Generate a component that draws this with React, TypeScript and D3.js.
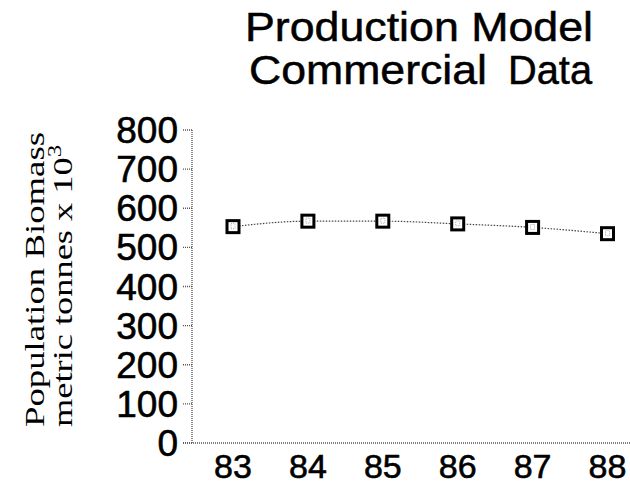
import React from 'react'
import * as d3 from 'd3'

const years = [83, 84, 85, 86, 87, 88]
const biomass = [553, 567, 567, 560, 551, 535]
const yTicks = [0, 100, 200, 300, 400, 500, 600, 700, 800]
const titleLine1 = 'Production Model'
const titleLine2 = ['Commercial', 'Data']

const W = 630
const H = 487

export default function App() {
  const x = d3.scaleLinear().domain([83, 88]).range([233, 607.5])
  const y = d3.scaleLinear().domain([0, 800]).range([443, 130])
  const axisX = 192

  const line = d3
    .line<number>()
    .x((_, i) => x(years[i]))
    .y((d) => y(d))
    .curve(d3.curveMonotoneX)

  const sans = "'Liberation Sans', Arial, sans-serif"
  const serif = "'Liberation Serif', 'Times New Roman', serif"

  return (
    <svg
      width={W}
      height={H}
      style={{ position: 'absolute', left: 0, top: 0, background: '#fff' }}
    >
      {/* title */}
      <g fontFamily={sans} fill="#000" stroke="#000" strokeWidth={0.5} fontSize={40}>
        <text x={245} y={41} textLength={348} lengthAdjust="spacingAndGlyphs">
          {titleLine1}
        </text>
        <text x={249} y={84} textLength={238} lengthAdjust="spacingAndGlyphs">
          {titleLine2[0]}
        </text>
        <text x={508} y={84} textLength={84} lengthAdjust="spacingAndGlyphs">
          {titleLine2[1]}
        </text>
      </g>

      {/* y axis title, reads bottom to top */}
      <g fontFamily={serif} fill="#000">
        <text
          transform="translate(44,427) rotate(-90)"
          fontSize={28}
          textLength={295}
          lengthAdjust="spacingAndGlyphs"
        >
          Population Biomass
        </text>
        <text
          transform="translate(72,427) rotate(-90)"
          fontSize={28}
          textLength={282}
          lengthAdjust="spacingAndGlyphs"
        >
          metric tonnes x 10
          <tspan dy={-11} fontSize={19}>3</tspan>
        </text>
      </g>

      {/* axes */}
      <g stroke="#555" strokeWidth={1.3} strokeDasharray="1,1" fill="none">
        <line x1={axisX} x2={axisX} y1={y(800)} y2={y(0)} />
        <line x1={axisX - 9} x2={W} y1={y(0)} y2={y(0)} />
        {yTicks.map((t) => (
          <line key={t} x1={axisX - 9} x2={axisX} y1={y(t)} y2={y(t)} />
        ))}
      </g>

      {/* y tick labels */}
      <g fontFamily={sans} fontSize={37} fill="#000" stroke="#000" strokeWidth={0.6} textAnchor="end">
        {yTicks.map((t) => (
          <text key={t} x={178} y={y(t) + 13}>
            {t}
          </text>
        ))}
      </g>

      {/* x tick labels */}
      <g fontFamily={sans} fontSize={34} fill="#000" stroke="#000" strokeWidth={0.6} textAnchor="middle">
        {years.map((yr) => (
          <text key={yr} x={x(yr)} y={478}>
            {yr}
          </text>
        ))}
      </g>

      {/* series */}
      <path
        d={line(biomass) || ''}
        fill="none"
        stroke="#444"
        strokeWidth={1.2}
        strokeDasharray="1.5,1.5"
      />
      {biomass.map((v, i) => (
        <g key={years[i]} transform={`translate(${x(years[i])},${y(v)})`}>
          <rect x={-6} y={-6} width={12} height={12} fill="#fff" stroke="#000" strokeWidth={3} />
          <rect x={-2} y={-3} width={4} height={5} fill="none" stroke="#999" strokeWidth={0.8} strokeDasharray="1,1" />
        </g>
      ))}
    </svg>
  )
}
